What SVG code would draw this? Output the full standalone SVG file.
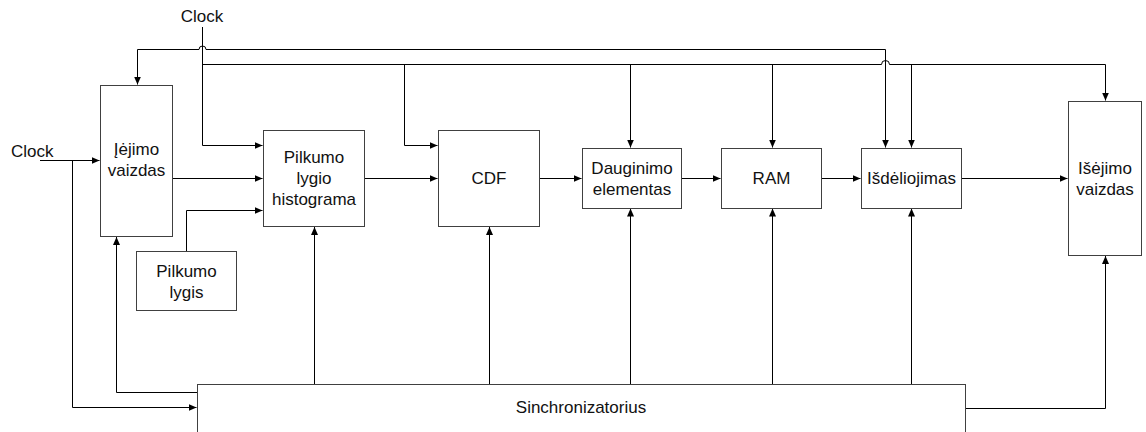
<svg xmlns="http://www.w3.org/2000/svg" width="1146" height="432" viewBox="0 0 1146 432">
<defs>
<marker id="arr" markerWidth="9" markerHeight="8" refX="8" refY="4" orient="auto" markerUnits="userSpaceOnUse">
<path d="M0,0.5 L8,4 L0,7.5 z" fill="#000"/>
</marker>
<style>
.box{fill:#fff;stroke:#404040;stroke-width:1}
.ln{fill:none;stroke:#000;stroke-width:1}
.ar{fill:none;stroke:#000;stroke-width:1;marker-end:url(#arr)}
text{font-family:"Liberation Sans",Arial,sans-serif;font-size:17px;fill:#111}
.c{text-anchor:middle}
</style>
</defs>
<rect width="1146" height="432" fill="#fff"/>
<g id="connectors">
<!-- top clock -->
<path class="ar" d="M202.5,27 V145.5 H262.5"/>
<!-- upper bus y=49 with hop at 202 -->
<path class="ar" d="M885.5,49.5 H206 A3.5,3.5 0 0 0 199,49.5 H137.5 V84.5"/>
<path class="ar" d="M885.5,49.5 V147.5"/>
<!-- lower bus y=64 with hop at 885 -->
<path class="ln" d="M202.5,64.5 H881.5 A4,4 0 0 1 889.5,64.5 H1105.5"/>
<path class="ar" d="M1105.5,64.5 V100.5"/>
<path class="ar" d="M404.5,64.5 V145.5 H437.5"/>
<path class="ar" d="M630.5,64.5 V147.5"/>
<path class="ar" d="M772.5,64.5 V147.5"/>
<path class="ar" d="M911.5,64.5 V147.5"/>
<!-- left clock -->
<path class="ar" d="M40,160.5 H99.5"/>
<path class="ar" d="M72.5,160.5 V407.5 H196.5"/>
<!-- sync to input image -->
<path class="ar" d="M197,392.5 H116.5 V237"/>
<!-- data flow -->
<path class="ar" d="M173,178.5 H262.5"/>
<path class="ar" d="M186.5,251 V210.5 H262.5"/>
<path class="ar" d="M365,178.5 H437.5"/>
<path class="ar" d="M540,178.5 H581.5"/>
<path class="ar" d="M682,178.5 H720.5"/>
<path class="ar" d="M822,178.5 H860.5"/>
<path class="ar" d="M962,178.5 H1067.5"/>
<!-- sync up arrows -->
<path class="ar" d="M314.5,384 V227"/>
<path class="ar" d="M489.5,384 V227"/>
<path class="ar" d="M630.5,384 V208.5"/>
<path class="ar" d="M772.5,384 V208.5"/>
<path class="ar" d="M911.5,384 V208.5"/>
<path class="ar" d="M966,408.5 H1105.5 V256"/>
</g>
<g id="ivestis">
<rect class="box" x="100.5" y="85.5" width="72" height="151"/>
<text class="c" x="136.5" y="155">Įėjimo</text>
<text class="c" x="136.5" y="176">vaizdas</text>
</g>
<g id="pilkumo-lygis">
<rect class="box" x="136.5" y="251.5" width="100" height="59"/>
<text class="c" x="186.5" y="276.5">Pilkumo</text>
<text class="c" x="186.5" y="297.5">lygis</text>
</g>
<g id="histograma">
<rect class="box" x="263.5" y="130.5" width="101" height="96"/>
<text class="c" x="314" y="163">Pilkumo</text>
<text class="c" x="314" y="184">lygio</text>
<text class="c" x="314" y="205">histograma</text>
</g>
<g id="cdf">
<rect class="box" x="438.5" y="130.5" width="101" height="96"/>
<text class="c" x="489" y="184">CDF</text>
</g>
<g id="dauginimo">
<rect class="box" x="582.5" y="148.5" width="99" height="60"/>
<text class="c" x="632" y="173.5">Dauginimo</text>
<text class="c" x="632" y="194.5">elementas</text>
</g>
<g id="ram">
<rect class="box" x="721.5" y="148.5" width="100" height="60"/>
<text class="c" x="771.5" y="184">RAM</text>
</g>
<g id="isdeliojimas">
<rect class="box" x="861.5" y="148.5" width="100" height="60"/>
<text class="c" x="911.5" y="184">Išdėliojimas</text>
</g>
<g id="isejimas">
<rect class="box" x="1068.5" y="101.5" width="73" height="154"/>
<text class="c" x="1105" y="174">Išėjimo</text>
<text class="c" x="1105" y="195">vaizdas</text>
</g>
<g id="sinchronizatorius">
<rect class="box" x="197.5" y="384.5" width="768" height="60"/>
<text class="c" x="581" y="413">Sinchronizatorius</text>
</g>
<g id="clock-labels">
<text class="c" x="202" y="22">Clock</text>
<text x="11" y="157">Clock</text>
</g>
</svg>
